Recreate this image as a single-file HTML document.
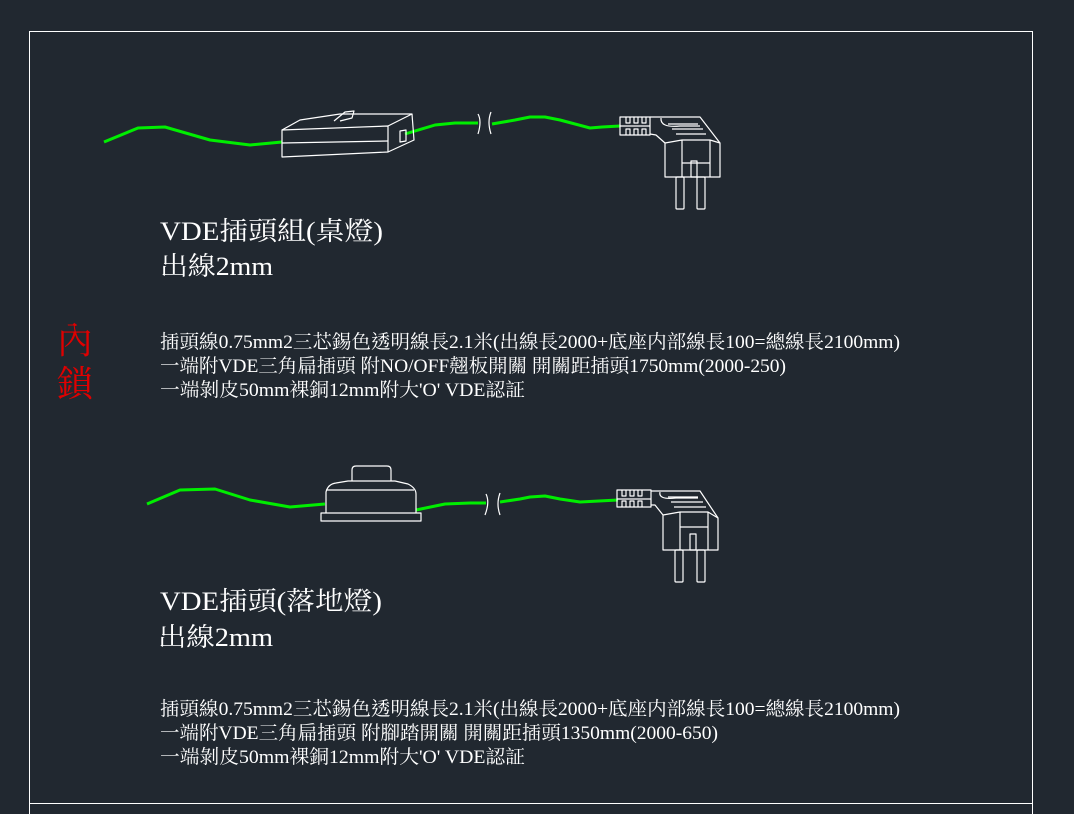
<!DOCTYPE html>
<html><head><meta charset="utf-8"><style>
html,body{margin:0;padding:0;background:#212830;}
svg{display:block}
text{font-family:"Liberation Serif","Noto Serif CJK TC","Noto Serif CJK SC",serif;fill:#fff}
</style></head><body>
<svg width="1074" height="814" viewBox="0 0 1074 814" xmlns="http://www.w3.org/2000/svg">
<rect width="1074" height="814" fill="#212830"/>
<g fill="none" stroke="#fff" stroke-width="1">
<rect x="29.5" y="31.5" width="1003" height="790"/>
<line x1="29" y1="803.5" x2="1033" y2="803.5"/>
</g>
<!-- top cable -->
<g fill="none" stroke="#00ee00" stroke-width="3" stroke-linejoin="round">
<polyline points="104,142 138,128 165,127 210,140 250,145 282,142"/>
<polyline points="405,134 435,125 455,123 478,123"/>
<polyline points="492,124 515,120 530,117 545,117 560,120 590,128 602,127 620,126"/>
</g>
<g fill="none" stroke="#fff" stroke-width="1.2" stroke-linejoin="round">
<!-- top switch -->
<polygon points="282,130 388,126 388,152 282,157"/>
<line x1="282" y1="143" x2="388" y2="141"/>
<polyline points="282,130 300,120 340,114 412,114 388,126"/>
<polyline points="412,114 414,140 388,152"/>
<polygon points="400,131 406,130 406,141 400,142"/>
<polyline points="334,121 345,112 354,111 352,118 340,121"/>
<path d="M478,114 Q482,121 478,134 M491,112 Q487,122 491,134"/>
<!-- top plug -->
<polygon points="620,117 650,117 650,135 620,135"/>
<path d="M626,117v6h4v-6M634,117v6h4v-6M642,117v6h4v-6M626,135v-6h4v6M634,135v-6h4v6M642,135v-6h4v6M620,126h30"/>
<polyline points="650,117 700,117 720,143 720,177 665,177 665,143 656,135 650,134"/>
<path d="M661,118 Q660,128 680,126 L700,126"/>
<path d="M665,143 L682,140 L710,140 L720,143 M682,140 V177 M710,140 V177 M682,163 H710"/>
<path d="M668,124 h30 M672,129 h31 M676,134 h30"/>
<rect x="691" y="161" width="6" height="16"/>
<rect x="676" y="177" width="8" height="32" rx="1"/>
<rect x="697" y="177" width="8" height="32" rx="1"/>
</g>
<!-- bottom cable -->
<g fill="none" stroke="#00ee00" stroke-width="3" stroke-linejoin="round">
<polyline points="147,504 180,490 215,489 250,500 290,507 325,504"/>
<polyline points="416,510 445,504 470,503 486,503"/>
<polyline points="500,502 520,499 530,497 545,496 560,499 580,502 618,500"/>
</g>
<g fill="none" stroke="#fff" stroke-width="1.2" stroke-linejoin="round">
<rect x="321" y="513" width="100" height="8"/>
<path d="M326,513 V492 Q328,484 336,483 L348,481 H395 L408,484 Q416,488 416,494 V513"/>
<line x1="326" y1="490" x2="414" y2="490"/>
<path d="M352,481 V470 Q352,466 356,466 H387 Q391,466 391,470 V481"/>
<path d="M486,494 Q490,502 485,515 M500,493 Q496,504 500,515"/>
<!-- bottom plug -->
<polygon points="617,490 651,490 651,507 617,507"/>
<path d="M622,490v6h4v-6M630,490v6h4v-6M638,490v6h4v-6M622,507v-6h4v6M630,507v-6h4v6M638,507v-6h4v6M617,499h34"/>
<polyline points="651,491 700,491 718,518 718,550 663,550 663,515 655,505 651,505"/>
<path d="M660,492 Q658,500 676,498 L698,498"/>
<path d="M663,515 L680,512 L708,512 L718,518 M680,512 V550 M708,512 V550 M680,527 H708"/>
<path d="M668,497 h30 M671,502 h32 M674,507 h32"/>
<rect x="690" y="534" width="6" height="16"/>
<rect x="675" y="550" width="8" height="32" rx="1"/>
<rect x="697" y="550" width="8" height="32" rx="1"/>
</g>
<!-- texts -->
<text x="160" y="240" font-size="26" textLength="223" lengthAdjust="spacingAndGlyphs">VDE插頭組(桌燈)</text>
<text x="160" y="275" font-size="26" textLength="113" lengthAdjust="spacingAndGlyphs">出線2mm</text>
<text x="160" y="348" font-size="19" textLength="740" lengthAdjust="spacingAndGlyphs">插頭線0.75mm2三芯錫色透明線長2.1米(出線長2000+底座内部線長100=總線長2100mm)</text>
<text x="160" y="372" font-size="19" textLength="626" lengthAdjust="spacingAndGlyphs">一端附VDE三角扁插頭 附NO/OFF翹板開關 開關距插頭1750mm(2000-250)</text>
<text x="160" y="396" font-size="19" textLength="365" lengthAdjust="spacingAndGlyphs">一端剝皮50mm裸銅12mm附大'O'  VDE認証</text>
<text x="57" y="353" font-size="36" style="fill:#e00000">內</text>
<text x="57" y="396" font-size="36" style="fill:#e00000">鎖</text>
<text x="160" y="610" font-size="26" textLength="222" lengthAdjust="spacingAndGlyphs">VDE插頭(落地燈)</text>
<text x="158" y="646" font-size="26" textLength="115" lengthAdjust="spacingAndGlyphs">出線2mm</text>
<text x="160" y="715" font-size="19" textLength="740" lengthAdjust="spacingAndGlyphs">插頭線0.75mm2三芯錫色透明線長2.1米(出線長2000+底座内部線長100=總線長2100mm)</text>
<text x="160" y="739" font-size="19" textLength="558" lengthAdjust="spacingAndGlyphs">一端附VDE三角扁插頭 附腳踏開關 開關距插頭1350mm(2000-650)</text>
<text x="160" y="763" font-size="19" textLength="365" lengthAdjust="spacingAndGlyphs">一端剝皮50mm裸銅12mm附大'O'  VDE認証</text>
</svg>
</body></html>
